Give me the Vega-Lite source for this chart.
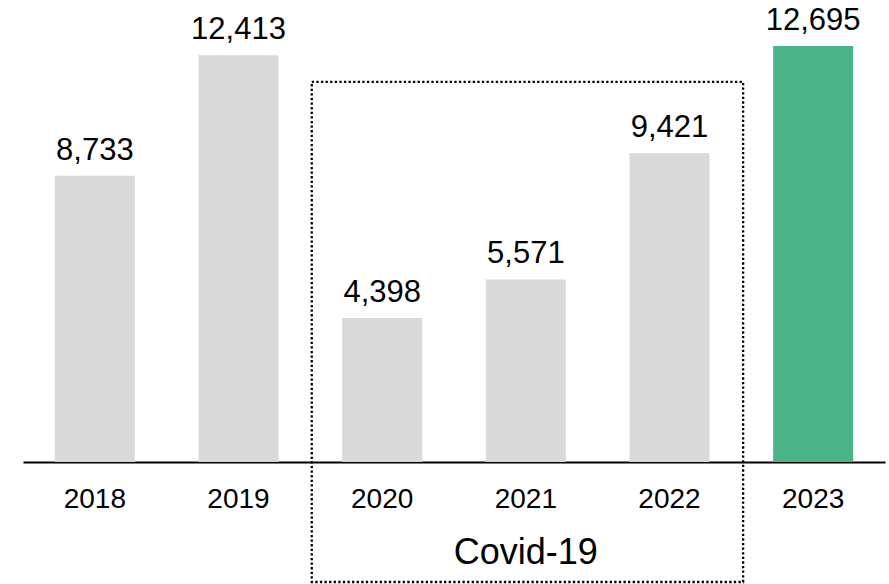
{
  "$schema": "https://vega.github.io/schema/vega-lite/v6.json",
  "width": 862,
  "height": 462,
  "autosize": {"type": "none"},
  "padding": {"left": 23, "right": 4, "top": 0, "bottom": 122},
  "background": "white",
  "config": {"view": {"stroke": null}, "font": "Liberation Sans"},
  "datasets": {
    "bars": [
      {"year": "2018", "value": 8733, "group": "other"},
      {"year": "2019", "value": 12413, "group": "other"},
      {"year": "2020", "value": 4398, "group": "other"},
      {"year": "2021", "value": 5571, "group": "other"},
      {"year": "2022", "value": 9421, "group": "other"},
      {"year": "2023", "value": 12695, "group": "latest"}
    ],
    "box": [
      {"start": "2020", "end": "2022", "mid": "2021", "top": 11600, "bottom": -3662, "labelY": -2790, "label": "Covid-19"}
    ]
  },
  "layer": [
    {
      "data": {"name": "bars"},
      "mark": {"type": "bar"},
      "encoding": {
        "x": {
          "field": "year", "type": "nominal",
          "scale": {"domain": ["2018","2019","2020","2021","2022","2023"], "paddingInner": 0.443, "paddingOuter": 0.2215},
          "axis": {"title": null, "labelAngle": 0, "ticks": false, "labelFontSize": 28, "labelColor": "black", "labelPadding": 23, "domainColor": "black", "domainWidth": 2, "labelFont": "Liberation Sans"}
        },
        "y": {"field": "value", "type": "quantitative", "scale": {"domain": [0, 14100], "nice": false, "zero": false}, "axis": null},
        "color": {"field": "group", "type": "nominal", "scale": {"domain": ["other", "latest"], "range": ["#d9d9d9", "#4bb388"]}, "legend": null}
      }
    },
    {
      "data": {"name": "bars"},
      "mark": {"type": "text", "fontSize": 31, "baseline": "alphabetic", "dy": -16, "color": "black"},
      "encoding": {
        "x": {"field": "year", "type": "nominal"},
        "y": {"field": "value", "type": "quantitative"},
        "text": {"field": "value", "type": "quantitative", "format": ","}
      }
    },
    {
      "data": {"name": "box"},
      "mark": {"type": "rect", "fill": null, "stroke": "black", "strokeWidth": 2.3, "strokeDash": [2.3, 2.3]},
      "encoding": {
        "x": {"field": "start", "type": "nominal", "bandPosition": -0.38},
        "x2": {"field": "end", "bandPosition": 1.42},
        "y": {"field": "top", "type": "quantitative"},
        "y2": {"field": "bottom"}
      }
    },
    {
      "data": {"name": "box"},
      "mark": {"type": "text", "fontSize": 36, "baseline": "middle", "color": "black"},
      "encoding": {
        "x": {"field": "mid", "type": "nominal"},
        "y": {"field": "labelY", "type": "quantitative"},
        "text": {"field": "label"}
      }
    }
  ]
}
